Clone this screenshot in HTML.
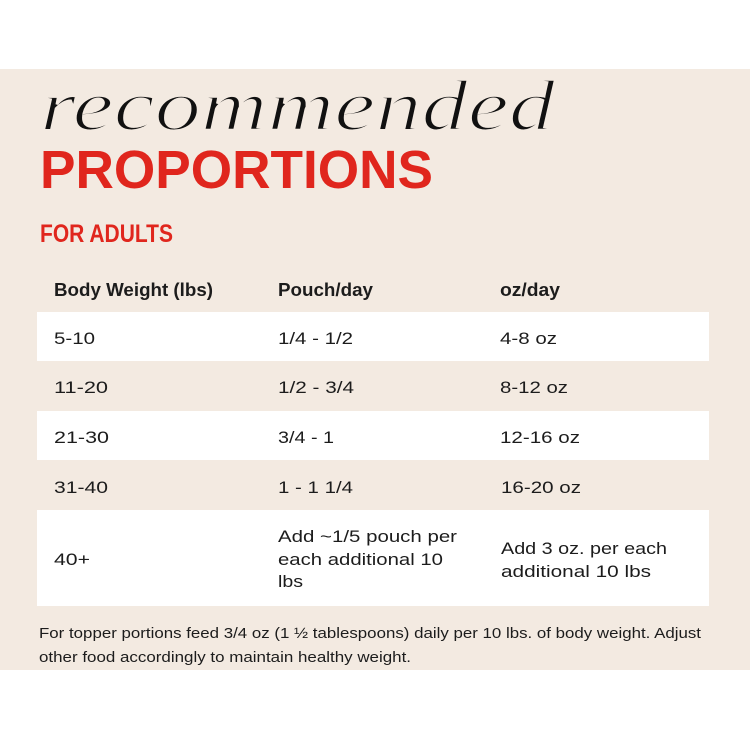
<!DOCTYPE html>
<html>
<head>
<meta charset="utf-8">
<style>
  html, body { margin: 0; padding: 0; background: #ffffff; }
  body { width: 750px; height: 750px; overflow: hidden; }
  svg { display: block; }
  .sans { font-family: "Liberation Sans", "DejaVu Sans", sans-serif; }
</style>
</head>
<body>
<svg width="750" height="750" viewBox="0 0 750 750" xmlns="http://www.w3.org/2000/svg">
  <rect x="0" y="0" width="750" height="750" fill="#ffffff"/>
  <rect x="0" y="69" width="750" height="601" fill="#f3eae1"/>

  <!-- script title -->
  <text x="40" y="130" font-family="Liberation Serif, serif" font-style="italic" font-size="72" fill="#111111" stroke="#f3eae1" stroke-width="2" textLength="515" lengthAdjust="spacingAndGlyphs">recommended</text>

  <!-- PROPORTIONS -->
  <text class="sans" x="40" y="188" font-weight="bold" font-size="54" fill="#e0261d" textLength="393" lengthAdjust="spacingAndGlyphs">PROPORTIONS</text>

  <!-- FOR ADULTS -->
  <text class="sans" x="40" y="242" font-weight="bold" font-size="25" fill="#e0261d" textLength="133" lengthAdjust="spacingAndGlyphs">FOR ADULTS</text>

  <!-- white rows -->
  <rect x="37" y="312" width="672" height="49" fill="#ffffff"/>
  <rect x="37" y="411" width="672" height="49" fill="#ffffff"/>
  <rect x="37" y="510" width="672" height="96" fill="#ffffff"/>

  <g class="sans" fill="#1c1c1c">
    <!-- header -->
    <text x="54" y="296" font-weight="bold" font-size="18.5" textLength="159" lengthAdjust="spacingAndGlyphs">Body Weight (lbs)</text>
    <text x="278" y="296" font-weight="bold" font-size="18.5" textLength="95" lengthAdjust="spacingAndGlyphs">Pouch/day</text>
    <text x="500" y="296" font-weight="bold" font-size="18.5" textLength="60" lengthAdjust="spacingAndGlyphs">oz/day</text>

    <g font-size="17">
      <!-- row 1 -->
      <text x="54" y="344" textLength="41" lengthAdjust="spacingAndGlyphs">5-10</text>
      <text x="278" y="344" textLength="75" lengthAdjust="spacingAndGlyphs">1/4 - 1/2</text>
      <text x="500" y="344" textLength="57" lengthAdjust="spacingAndGlyphs">4-8 oz</text>

      <!-- row 2 -->
      <text x="54" y="393" textLength="54" lengthAdjust="spacingAndGlyphs">11-20</text>
      <text x="278" y="393" textLength="76" lengthAdjust="spacingAndGlyphs">1/2 - 3/4</text>
      <text x="500" y="393" textLength="68" lengthAdjust="spacingAndGlyphs">8-12 oz</text>

      <!-- row 3 -->
      <text x="54" y="443" textLength="55" lengthAdjust="spacingAndGlyphs">21-30</text>
      <text x="278" y="443" textLength="56" lengthAdjust="spacingAndGlyphs">3/4 - 1</text>
      <text x="500" y="443" textLength="80" lengthAdjust="spacingAndGlyphs">12-16 oz</text>

      <!-- row 4 -->
      <text x="54" y="493" textLength="54" lengthAdjust="spacingAndGlyphs">31-40</text>
      <text x="278" y="493" textLength="75" lengthAdjust="spacingAndGlyphs">1 - 1 1/4</text>
      <text x="501" y="493" textLength="80" lengthAdjust="spacingAndGlyphs">16-20 oz</text>

      <!-- row 5 -->
      <text x="54" y="565" textLength="36" lengthAdjust="spacingAndGlyphs">40+</text>
      <text x="278" y="542" textLength="179" lengthAdjust="spacingAndGlyphs">Add ~1/5 pouch per</text>
      <text x="278" y="565" textLength="165" lengthAdjust="spacingAndGlyphs">each additional 10</text>
      <text x="278" y="587" textLength="25" lengthAdjust="spacingAndGlyphs">lbs</text>
      <text x="501" y="554" textLength="166" lengthAdjust="spacingAndGlyphs">Add 3 oz. per each</text>
      <text x="501" y="577" textLength="150" lengthAdjust="spacingAndGlyphs">additional 10 lbs</text>
    </g>

    <!-- footnote -->
    <text x="39" y="638" font-size="14.5" textLength="662" lengthAdjust="spacingAndGlyphs">For topper portions feed 3/4 oz (1 ½ tablespoons) daily per 10 lbs. of body weight. Adjust</text>
    <text x="39" y="662" font-size="14.5" textLength="372" lengthAdjust="spacingAndGlyphs">other food accordingly to maintain healthy weight.</text>
  </g>
</svg>
</body>
</html>
